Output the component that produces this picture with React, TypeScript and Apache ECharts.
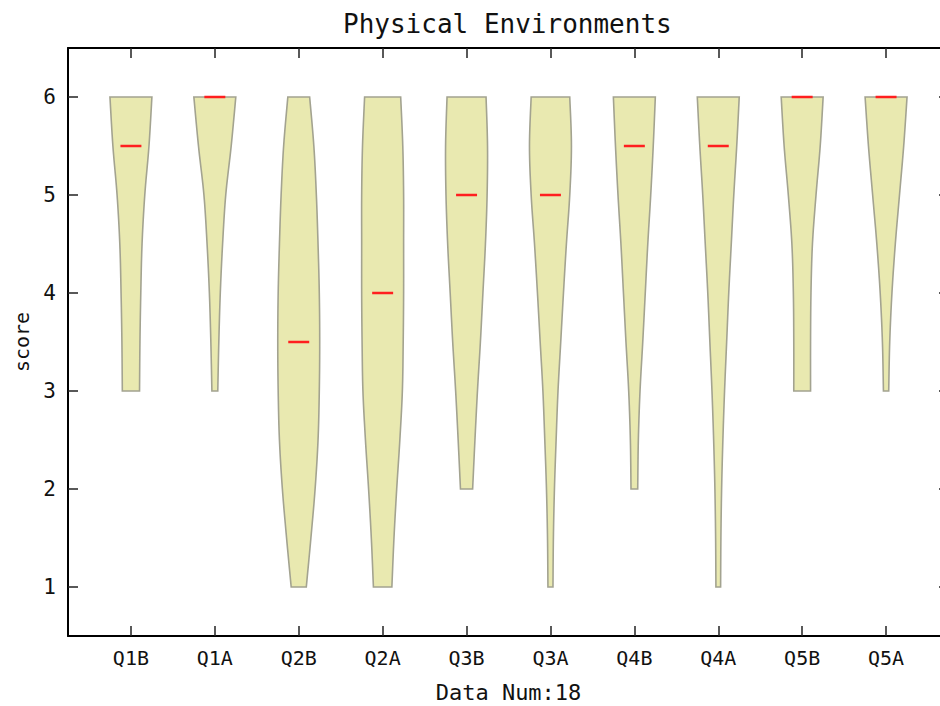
import React, { useEffect, useRef } from 'react';
import * as echarts from 'echarts';

const categories = ['Q1B', 'Q1A', 'Q2B', 'Q2A', 'Q3B', 'Q3A', 'Q4B', 'Q4A', 'Q5B', 'Q5A'];
const medians = [5.5, 6, 3.5, 4, 5, 5, 5.5, 5.5, 6, 6];
const maxScores = [6, 6, 6, 6, 6, 6, 6, 6, 6, 6];
const minScores = [3, 3, 1, 1, 2, 1, 2, 1, 3, 3];
const yTicks = [1, 2, 3, 4, 5, 6];
const xTicks = [1, 2, 3, 4, 5, 6, 7, 8, 9, 10];
const dataNum = 18;
const scoreStep = 0.5; // spacing (in score) between the width readings below

// violin widths (x units), read from the top (max score) downward every 0.5
const q1bWidths = [0.5, 0.43, 0.33, 0.265, 0.235, 0.215, 0.205];
const q1aWidths = [0.5, 0.39, 0.26, 0.185, 0.13, 0.095, 0.07];
const q2bWidths = [0.26, 0.36, 0.42, 0.46, 0.49, 0.5, 0.49, 0.46, 0.39, 0.29, 0.18];
const q2aWidths = [0.43, 0.48, 0.5, 0.5, 0.5, 0.49, 0.47, 0.41, 0.335, 0.27, 0.22];
const q3bWidths = [0.465, 0.5, 0.49, 0.45, 0.39, 0.33, 0.26, 0.2, 0.145];
const q3aWidths = [0.46, 0.5, 0.46, 0.38, 0.31, 0.245, 0.18, 0.135, 0.095, 0.07, 0.06];
const q4bWidths = [0.5, 0.45, 0.39, 0.32, 0.26, 0.2, 0.135, 0.095, 0.08];
const q4aWidths = [0.5, 0.44, 0.37, 0.31, 0.25, 0.2, 0.15, 0.11, 0.08, 0.063, 0.056];
const q5bWidths = [0.5, 0.43, 0.33, 0.245, 0.21, 0.2, 0.2];
const q5aWidths = [0.5, 0.42, 0.32, 0.22, 0.14, 0.087, 0.063];

const violinWidths = [
  q1bWidths, q1aWidths, q2bWidths, q2aWidths, q3bWidths,
  q3aWidths, q4bWidths, q4aWidths, q5bWidths, q5aWidths,
];

const FONT = '"DejaVu Sans Mono", "Liberation Mono", monospace';

function catmull(pts: number[][], steps: number): number[][] {
  if (pts.length < 2) return pts.slice();
  const out: number[][] = [];
  for (let i = 0; i < pts.length - 1; i++) {
    const p0 = pts[Math.max(0, i - 1)];
    const p1 = pts[i];
    const p2 = pts[i + 1];
    const p3 = pts[Math.min(pts.length - 1, i + 2)];
    for (let s = 0; s < steps; s++) {
      const t = s / steps;
      const t2 = t * t;
      const t3 = t2 * t;
      const f = (a: number, b: number, c: number, d: number) =>
        0.5 * (2 * b + (-a + c) * t + (2 * a - 5 * b + 4 * c - d) * t2 + (-a + 3 * b - 3 * c + d) * t3);
      out.push([f(p0[0], p1[0], p2[0], p3[0]), f(p0[1], p1[1], p2[1], p3[1])]);
    }
  }
  out.push(pts[pts.length - 1]);
  return out;
}

export default function App() {
  const ref = useRef<HTMLDivElement>(null);

  useEffect(() => {
    if (!ref.current) return;
    const chart = echarts.init(ref.current, null, { renderer: 'svg' });

    const seriesData = categories.map((_, i) => [i + 1, maxScores[i], minScores[i], medians[i]]);

    const renderItem = (params: any, api: any) => {
      const i = params.dataIndex;
      const xc = api.value(0);
      const top = api.value(1);
      const med = api.value(3);
      const w = violinWidths[i];
      const right = w.map((wd, k) => api.coord([xc + wd / 2, top - k * scoreStep]));
      const left = w.map((wd, k) => api.coord([xc - wd / 2, top - k * scoreStep]));
      const R = catmull(right, 10);
      const L = catmull(left, 10).reverse();
      const points = R.concat(L);
      const m1 = api.coord([xc - 0.125, med]);
      const m2 = api.coord([xc + 0.125, med]);
      return {
        type: 'group',
        children: [
          {
            type: 'polygon',
            shape: { points },
            style: { fill: '#e9e9b0', stroke: '#a3a390', lineWidth: 1.6 },
          },
          {
            type: 'line',
            shape: { x1: m1[0], y1: m1[1], x2: m2[0], y2: m2[1] },
            style: { stroke: '#ff1f1f', lineWidth: 2.5 },
          },
        ],
      };
    };

    const axisLineStyle = { color: '#000', width: 2 };
    const tickStyle = { color: '#222', width: 1.5 };

    chart.setOption({
      animation: false,
      backgroundColor: '#fff',
      title: {
        text: 'Physical Environments',
        left: 338,
        top: 6,
        textStyle: { fontFamily: FONT, fontSize: 26, fontWeight: 'normal', color: '#111' },
      },
      grid: { left: 68, top: 48, width: 881, height: 588, outerBoundsMode: 'none', containLabel: false },
      xAxis: [
        {
          type: 'value',
          position: 'bottom',
          min: 0.25,
          max: 10.75,
          axisLine: { show: true, onZero: false, lineStyle: axisLineStyle },
          axisTick: { show: true, inside: true, length: 10, customValues: xTicks, lineStyle: tickStyle },
          axisLabel: {
            show: true,
            customValues: xTicks,
            formatter: (v: number) => categories[Math.round(v) - 1] ?? '',
            fontFamily: FONT,
            fontSize: 20,
            color: '#111',
            margin: 12,
          },
          splitLine: { show: false },
          name: 'Data Num:' + dataNum,
          nameLocation: 'middle',
          nameGap: 45,
          nameTextStyle: { fontFamily: FONT, fontSize: 22, color: '#111' },
        },
        {
          type: 'value',
          position: 'top',
          min: 0.25,
          max: 10.75,
          axisLine: { show: true, onZero: false, lineStyle: axisLineStyle },
          axisTick: { show: true, inside: true, length: 10, customValues: xTicks, lineStyle: tickStyle },
          axisLabel: { show: false },
          splitLine: { show: false },
        },
      ],
      yAxis: [
        {
          type: 'value',
          position: 'left',
          min: 0.5,
          max: 6.5,
          axisLine: { show: true, onZero: false, lineStyle: axisLineStyle },
          axisTick: { show: true, inside: true, length: 10, customValues: yTicks, lineStyle: tickStyle },
          axisLabel: {
            show: true,
            customValues: yTicks,
            fontFamily: FONT,
            fontSize: 21,
            color: '#111',
            margin: 12,
          },
          splitLine: { show: false },
          name: 'score',
          nameLocation: 'middle',
          nameGap: 36,
          nameTextStyle: { fontFamily: FONT, fontSize: 20, color: '#111' },
        },
        {
          type: 'value',
          position: 'right',
          min: 0.5,
          max: 6.5,
          axisLine: { show: true, onZero: false, lineStyle: axisLineStyle },
          axisTick: { show: true, inside: true, length: 10, customValues: yTicks, lineStyle: tickStyle },
          axisLabel: { show: false },
          splitLine: { show: false },
        },
      ],
      series: [
        {
          type: 'custom',
          xAxisIndex: 0,
          yAxisIndex: 0,
          renderItem,
          encode: { x: 0, y: [1, 2] },
          data: seriesData,
          clip: false,
        },
      ],
    });

    return () => {
      chart.dispose();
    };
  }, []);

  return (
    <div
      ref={ref}
      style={{ position: 'fixed', left: 0, top: 0, width: 940, height: 706, background: '#fff' }}
    />
  );
}
